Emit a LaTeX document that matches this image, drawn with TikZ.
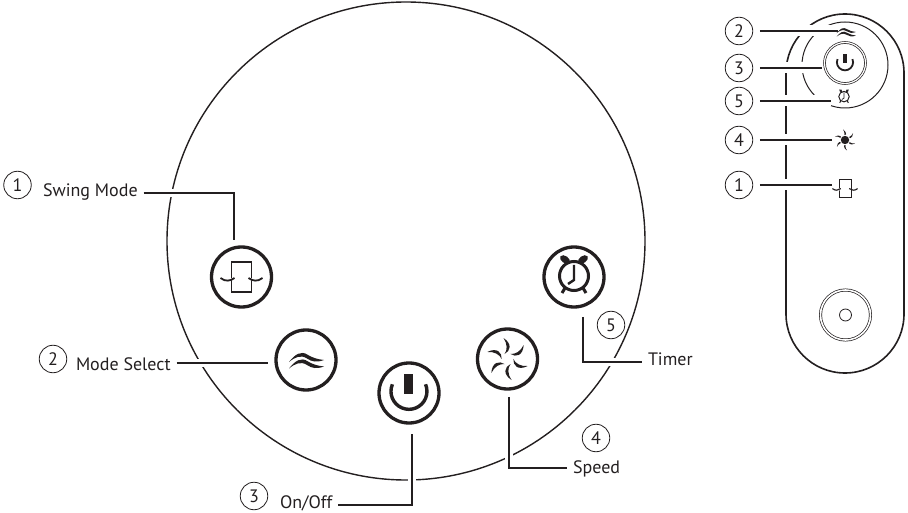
\documentclass[tikz,border=0pt]{standalone}
\usepackage{fontspec}
\setmainfont{PT Sans}
\definecolor{ink}{HTML}{231F20}
\tikzset{
  leader/.style={draw=ink, line width=2, preaction={draw=white, line width=8}},
  thinleader/.style={draw=ink, line width=1.7, preaction={draw=white, line width=11}},
  button/.style={circle, draw=ink, line width=3.3, minimum size=60, inner sep=0, outer sep=8, fill=white},
  number/.style={circle, draw=ink, line width=0.8, minimum size=27.5, inner sep=0, outer sep=7, text=ink, font=\fontsize{18}{18}\selectfont},
  caption/.style={anchor=base west, inner sep=0, outer xsep=6, text height=11, text depth=3, text=ink, font=\fontsize{18}{18}\selectfont},
  spot/.style={circle, inner sep=0, minimum size=16, outer sep=0},
  pics/swingicon/.style={code={
    \draw[ink, line width=#1] (-10,-15) rectangle (10,15);
    \draw[white, line width=2*#1] (-3,-1) -- (-10,3) (3,-1) -- (10,3);
    \draw[ink, line width=1.3*#1] (-21,1) .. controls (-16,5) and (-11,4) .. (-7,1);
    \draw[ink, line width=1.3*#1] (21,1) .. controls (16,5) and (11,4) .. (7,1);
  }},
  pics/waveicon/.style={code={
    \foreach \dy in {0,6.5} {
      \fill[ink, shift={(0,\dy)}] (-17,2) .. controls (-11,-5.5) and (-5,-10) .. (2,-5)
        .. controls (6,-2.5) and (12,-0.5) .. (18,0)
        .. controls (11,2.5) and (6,2) .. (1,-1.5)
        .. controls (-5,-5.5) and (-11,-3) .. (-17,2);
    }
  }},
  pics/powericon/.style={code={
    \fill[ink] (-5,-19) rectangle (4,1);
    \draw[ink, line width=#1] (-16.6,-8.7) arc[start angle=203, end angle=-23, radius=18];
  }},
  pics/fanicon/.style={code={
    \foreach \ang in {0,60,...,300} {
      \fill[ink, rotate=\ang] (-3,-5) .. controls (3,-8) and (5,-15) .. (-4,-21)
        .. controls (0,-15) and (0,-9) .. (-3,-5);
    }
  }},
  pics/clockicon/.style={code={
    \draw[ink, line width=#1] (0,-1) circle (14.5);
    \draw[ink, line width=0.8*#1] (0,-12) -- (0,3) -- (-6,7);
    \fill[ink, rotate around={-35:(-9,-17.5)}] (-9,-17.5) ellipse (5.5 and 3.5);
    \fill[ink, rotate around={35:(9,-17.5)}] (9,-17.5) ellipse (5.5 and 3.5);
    \draw[ink, line width=#1] (-9,11) -- (-12,16) (9,11) -- (12,16);
  }},
}
\begin{document}
\begin{tikzpicture}[x=1pt, y=-1pt]
\useasboundingbox (0,0) rectangle (908,513);
% dial
    \node [circle, draw=ink, line width=1.4, minimum size=478, inner sep=0] (dial) at (406,241) {};
    % buttons
    \node [button] (swingbtn) at (241.5,277) {};
    \node [button] (modebtn) at (306,360) {};
    \node [button, outer sep=11] (powerbtn) at (409,393) {};
    \node [button] (fanbtn) at (507.5,359) {};
    \node [button, outer sep=11] (clockbtn) at (574,277) {};
    % labels
    \node [caption] (swinglabel) at (37,197) {Swing Mode};
    \node [caption] (modelabel) at (70,370) {Mode Select};
    \node [caption] (onofflabel) at (274,508) {On/Off};
    \node [caption] (speedlabel) at (567,473) {Speed};
    \node [caption] (timerlabel) at (642,365) {Timer};
    % numbers
    \node [number] (dialone) at (17.5,185) {1};
    \node [number] (dialtwo) at (53,359) {2};
    \node [number] (dialthree) at (254,496) {3};
    \node [number] (dialfour) at (596,438) {4};
    \node [number] (dialfive) at (611,325) {5};
% remote
    \draw [ink, line width=1.6, rounded corners=59] (786,14) rectangle (904,373);
    \node [circle, draw=ink, line width=1, minimum size=86, inner sep=0] (ring) at (845,65) {};
    \node [circle, draw=ink, line width=0.7, double, double distance=1.2, minimum size=41, inner sep=0, outer sep=3, fill=white] (powerring) at (845,63) {};
    \node [circle, draw=ink, line width=0.7, double, double distance=1.6, minimum size=50, inner sep=0] (knob) at (845.5,315) {};
    \node [circle, draw=ink, line width=0.8, minimum size=12, inner sep=0] (knobdot) at (845.5,315) {};
    \node [spot] (wavespot) at (846,32) {};
    \node [spot, minimum size=26] (clockspot) at (844,97) {};
    \node [spot, minimum size=26] (sunspot) at (845,140) {};
    \node [spot, minimum size=26] (swingspot) at (845,188) {};
    \node [number] (remotetwo) at (739,31) {2};
    \node [number] (remotethree) at (739,68) {3};
    \node [number] (remotefive) at (739,101) {5};
    \node [number] (remotefour) at (739,140) {4};
    \node [number] (remoteone) at (739,185) {1};
% leaders
    \path [leader] (swinglabel.east) -| (swingbtn.101);
    \path [leader] ([yshift=3]modelabel.east) -- ([yshift=3]modelabel.east -| modebtn.west);
    \path [leader] ([yshift=-1]onofflabel.east) -| (powerbtn.-86);
    \path [leader] (fanbtn.-87) |- ([yshift=1]speedlabel.west);
    \path [leader] (clockbtn.-77) |- ([yshift=-1]timerlabel.west);
    \path [thinleader] (remotetwo.east) -- (remotetwo.east -| wavespot.west);
    \path [thinleader] (remotethree.east) -- (remotethree.east -| powerring.west);
    \path [thinleader] (remotefive.east) -- (remotefive.east -| clockspot.west);
    \path [thinleader] (remotefour.east) -- (remotefour.east -| sunspot.west);
    \path [thinleader] (remoteone.east) -- (remoteone.east -| swingspot.west);
% icons
    \pic at (swingbtn) {swingicon=1.4};
    \pic at (modebtn) {waveicon};
    \pic at (powerbtn) {powericon=3.4};
    \pic at (fanbtn) {fanicon};
    \pic at (clockbtn) {clockicon=3};
    \pic [scale=0.55] at (wavespot) {waveicon};
    \pic [scale=0.45] at (powerring) {powericon=1.8};
    \pic [scale=0.36] at (clockspot) {clockicon=1};
    \pic [scale=0.5] at (sunspot) {fanicon};
    \fill [white] (sunspot) circle (5.4);
    \fill [ink] (sunspot) circle (4.2);
    \pic [scale=0.6] at (swingspot) {swingicon=0.9};
\end{tikzpicture}
\end{document}
